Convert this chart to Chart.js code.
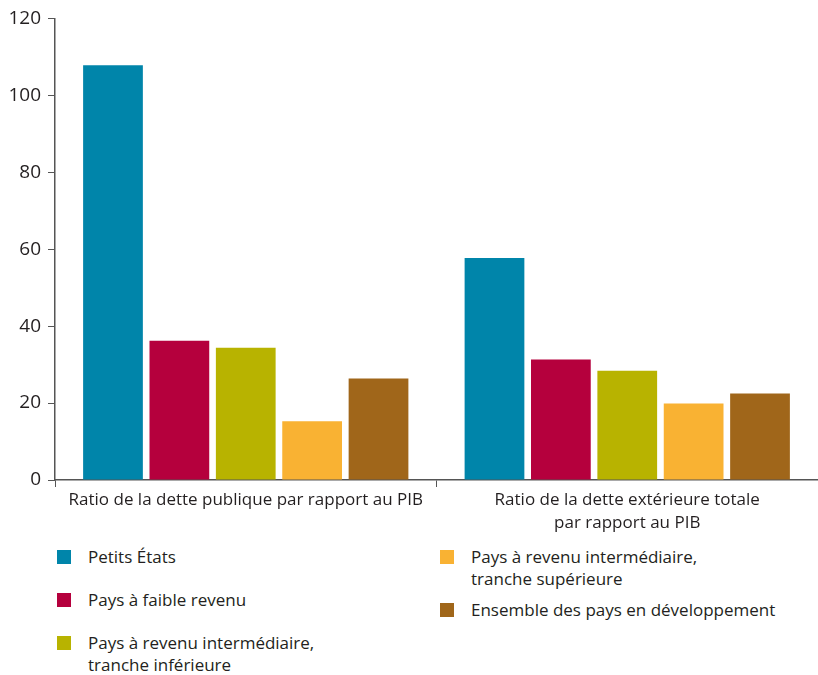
<!DOCTYPE html>
<html>
<head>
<meta charset="utf-8">
<script src="https://cdn.jsdelivr.net/npm/chart.js@4"></script>
<style>
  html, body { margin: 0; padding: 0; background: #fff; }
  #wrap { position: relative; width: 818px; height: 675px; }
  #chart { position: absolute; left: 0; top: 0; }
  #legend { position: absolute; left: 0; top: 546px; width: 818px; height: 129px; font-family: "Open Sans", sans-serif; font-size: 17px; color: #231f20; }
  .item { position: absolute; display: flex; align-items: flex-start; line-height: 22px; }
  .box { width: 14px; height: 14px; margin-top: 4px; margin-right: 17px; flex: none; }
</style>
</head>
<body>
<div id="wrap">
  <canvas id="chart" width="818" height="540"></canvas>
  <div id="legend"></div>
</div>
<script>
const categories = [
  "Ratio de la dette publique par rapport au PIB",
  ["Ratio de la dette extérieure totale", "par rapport au PIB"]
];
const seriesNames = [
  ["Petits États"],
  ["Pays à faible revenu"],
  ["Pays à revenu intermédiaire,", "tranche inférieure"],
  ["Pays à revenu intermédiaire,", "tranche supérieure"],
  ["Ensemble des pays en développement"]
];
const colors = ["#0085aa", "#b5003d", "#b8b300", "#f9b233", "#a0661a"];
const petitsEtats = [107.8, 57.7];
const faibleRevenu = [36.2, 31.3];
const trancheInferieure = [34.4, 28.4];
const trancheSuperieure = [15.3, 19.9];
const ensemble = [26.4, 22.5];
const yTicks = [0, 20, 40, 60, 80, 100, 120];

const values = [petitsEtats, faibleRevenu, trancheInferieure, trancheSuperieure, ensemble];

const fontFamily = '"Open Sans", sans-serif';

new Chart(document.getElementById("chart").getContext("2d"), {
  type: "bar",
  data: {
    labels: categories,
    datasets: values.map(function(v, i) {
      return {
        label: seriesNames[i].join(" "),
        data: v,
        backgroundColor: colors[i],
        barPercentage: 0.9,
        categoryPercentage: 0.87
      };
    })
  },
  options: {
    responsive: false,
    animation: false,
    layout: { padding: { top: 16, right: 0, left: 0, bottom: 0 } },
    plugins: { legend: { display: false }, tooltip: { enabled: false } },
    scales: {
      x: {
        grid: { drawOnChartArea: false, color: "#555", tickLength: 7, offset: true },
        border: { color: "#555", width: 1.5 },
        ticks: { color: "#231f20", font: { family: fontFamily, size: 17, lineHeight: 1.35 }, padding: 2 },
        afterFit: function(scale) { scale.height = 60; }
      },
      y: {
        min: 0,
        max: 120,
        afterBuildTicks: function(scale) { scale.ticks = yTicks.map(function(t) { return { value: t }; }); },
        grid: { drawOnChartArea: false, color: "#555", tickLength: 7 },
        border: { color: "#555", width: 1.5 },
        ticks: { color: "#231f20", font: { family: fontFamily, size: 19 }, padding: 7 },
        afterFit: function(scale) { scale.width = 55; }
      }
    }
  }
});

// légende HTML en deux colonnes
const legend = document.getElementById("legend");
const legendSpots = [[57, 0], [57, 43], [57, 86], [440, 0], [440, 53]];
seriesNames.forEach(function(name, i) {
  const item = document.createElement("div");
  item.className = "item";
  item.style.left = legendSpots[i][0] + "px";
  item.style.top = legendSpots[i][1] + "px";
  const box = document.createElement("span");
  box.className = "box";
  box.style.background = colors[i];
  const txt = document.createElement("span");
  txt.innerHTML = name.join("<br>");
  item.appendChild(box);
  item.appendChild(txt);
  legend.appendChild(item);
});
</script>
</body>
</html>
